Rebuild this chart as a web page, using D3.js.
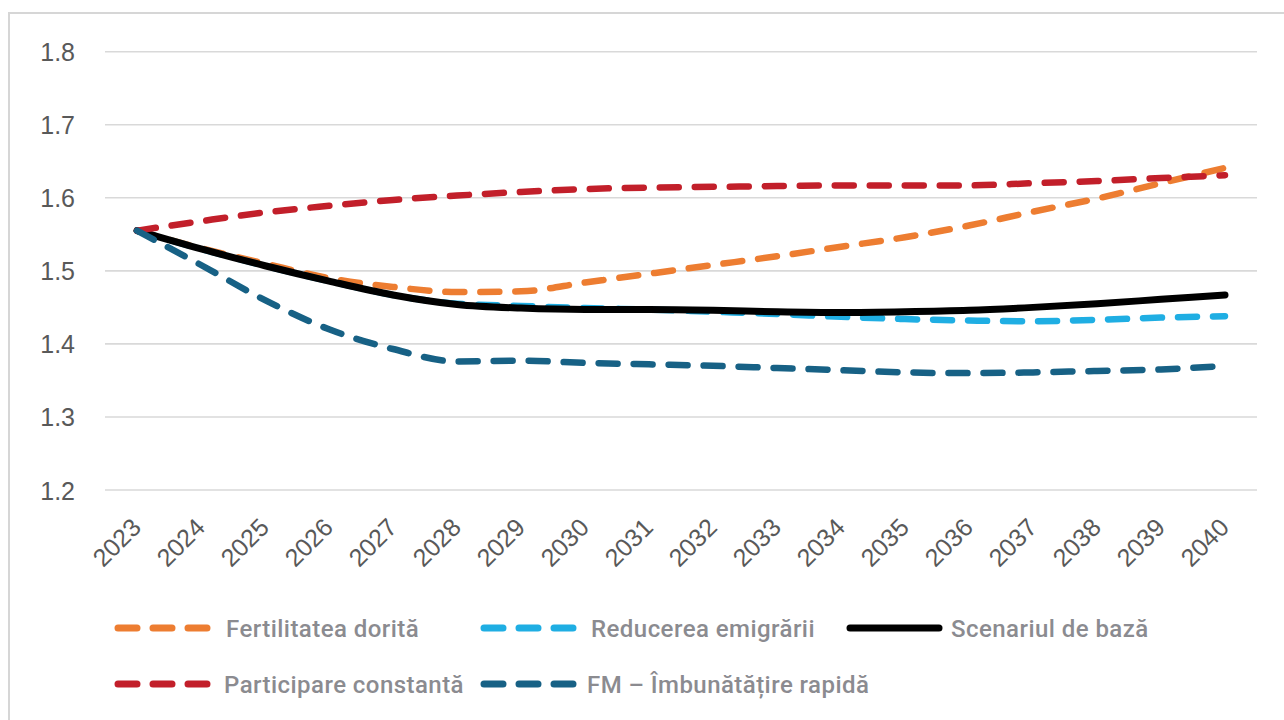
<!DOCTYPE html>
<html>
<head>
<meta charset="utf-8">
<script src="https://cdn.jsdelivr.net/npm/d3@7"></script>
<style>
  html, body { margin: 0; padding: 0; background: #ffffff; }
  svg { display: block; }
</style>
</head>
<body>
<svg id="chart" width="1284" height="720"></svg>
<script>
// Years on the horizontal axis
const years = ["2023","2024","2025","2026","2027","2028","2029","2030","2031",
               "2032","2033","2034","2035","2036","2037","2038","2039","2040"];

// Y axis tick values
const yTicks = [1.2, 1.3, 1.4, 1.5, 1.6, 1.7, 1.8];

// Series values (total fertility rate per scenario)
const fertilitateaDorita = [1.555, 1.531, 1.510, 1.490, 1.478, 1.471, 1.472, 1.484, 1.496,
                            1.508, 1.520, 1.533, 1.546, 1.562, 1.581, 1.599, 1.620, 1.641];
const reducereaEmigrarii = [1.555, 1.530, 1.507, 1.486, 1.467, 1.455, 1.452, 1.449, 1.447,
                            1.444, 1.441, 1.437, 1.434, 1.432, 1.431, 1.433, 1.436, 1.438];
const scenariulDeBaza    = [1.555, 1.530, 1.507, 1.486, 1.467, 1.454, 1.449, 1.447, 1.447,
                            1.446, 1.444, 1.443, 1.444, 1.446, 1.450, 1.455, 1.461, 1.467];
const participareConst   = [1.555, 1.568, 1.580, 1.589, 1.597, 1.603, 1.608, 1.612, 1.614,
                            1.615, 1.616, 1.617, 1.617, 1.617, 1.620, 1.623, 1.627, 1.631];
const fmImbunatatire     = [1.555, 1.508, 1.460, 1.420, 1.393, 1.376, 1.377, 1.374, 1.372,
                            1.370, 1.367, 1.364, 1.361, 1.360, 1.361, 1.363, 1.365, 1.370];

// Series names, in drawing / legend order
const seriesNames = ["Fertilitatea dorită", "Reducerea emigrării", "Scenariul de bază",
                     "Participare constantă", "FM – Îmbunătățire rapidă"];
const seriesValues = [fertilitateaDorita, reducereaEmigrarii, scenariulDeBaza,
                      participareConst, fmImbunatatire];
const seriesColors = ["#ED7D31", "#1FAEE3", "#000000", "#C21F2A", "#176185"];
const seriesDashed = [true, true, false, true, true];

const svg = d3.select("#chart");

// Outer frame of the chart area
svg.append("rect")
  .attr("x", 9).attr("y", 13)
  .attr("width", 1290).attr("height", 720)
  .attr("fill", "none")
  .attr("stroke", "#d6d6d6")
  .attr("stroke-width", 2);

const x = d3.scalePoint().domain(years).range([105, 1257]).padding(0.5);
const y = d3.scaleLinear().domain([1.2, 1.8]).range([490, 51.7]);

// Horizontal gridlines
svg.append("g")
  .selectAll("line")
  .data(yTicks)
  .join("line")
  .attr("x1", 105).attr("x2", 1257)
  .attr("y1", d => y(d)).attr("y2", d => y(d))
  .attr("stroke", "#d9d9d9")
  .attr("stroke-width", 1.6);

// Y axis labels
const yAxis = d3.axisLeft(y).tickValues(yTicks).tickFormat(d3.format(".1f")).tickSize(0).tickPadding(0);
svg.append("g")
  .attr("transform", "translate(75,0)")
  .call(yAxis)
  .call(g => g.select(".domain").remove())
  .call(g => g.selectAll("text")
    .attr("fill", "#595959")
    .attr("font-family", "Liberation Sans, Arial, sans-serif")
    .attr("font-size", 25)
    .attr("dy", "0.36em"));

// X axis labels, rotated
const xAxis = d3.axisBottom(x).tickSize(0).tickPadding(0);
svg.append("g")
  .attr("transform", "translate(0,529)")
  .call(xAxis)
  .call(g => g.select(".domain").remove())
  .call(g => g.selectAll(".tick text")
    .attr("fill", "#595959")
    .attr("font-family", "Liberation Sans, Arial, sans-serif")
    .attr("font-size", 25)
    .attr("text-anchor", "end")
    .attr("y", 0)
    .attr("dy", 0)
    .attr("transform", "translate(5,0) rotate(-45)"));

// Series lines
const line = d3.line()
  .x((d, i) => x(years[i]))
  .y(d => y(d))
  .curve(d3.curveMonotoneX);

const dash = "19 16";

svg.append("g")
  .selectAll("path")
  .data(seriesValues)
  .join("path")
  .attr("d", d => line(d))
  .attr("fill", "none")
  .attr("stroke", (d, i) => seriesColors[i])
  .attr("stroke-width", (d, i) => seriesDashed[i] ? 6.5 : 7)
  .attr("stroke-linecap", "round")
  .attr("stroke-linejoin", "round")
  .attr("stroke-dasharray", (d, i) => seriesDashed[i] ? dash : null);

// Legend
const legendPos = [
  { lx: 118, ly: 628, tx: 226 },
  { lx: 484, ly: 628, tx: 591 },
  { lx: 850, ly: 628, tx: 951 },
  { lx: 118, ly: 684, tx: 224 },
  { lx: 484, ly: 684, tx: 587 }
];

const legend = svg.append("g")
  .selectAll("g")
  .data(seriesNames)
  .join("g");

legend.append("line")
  .attr("x1", (d, i) => legendPos[i].lx)
  .attr("x2", (d, i) => legendPos[i].lx + 89)
  .attr("y1", (d, i) => legendPos[i].ly)
  .attr("y2", (d, i) => legendPos[i].ly)
  .attr("stroke", (d, i) => seriesColors[i])
  .attr("stroke-width", 7)
  .attr("stroke-linecap", "round")
  .attr("stroke-dasharray", (d, i) => seriesDashed[i] ? dash : null);

legend.append("text")
  .attr("x", (d, i) => legendPos[i].tx)
  .attr("y", (d, i) => legendPos[i].ly)
  .attr("dy", "0.36em")
  .attr("fill", "#8b8b90")
  .attr("font-family", "Roboto, sans-serif")
  .attr("font-weight", 500)
  .attr("font-size", 24)
  .attr("letter-spacing", 0.45)
  .text(d => d);
</script>
</body>
</html>
